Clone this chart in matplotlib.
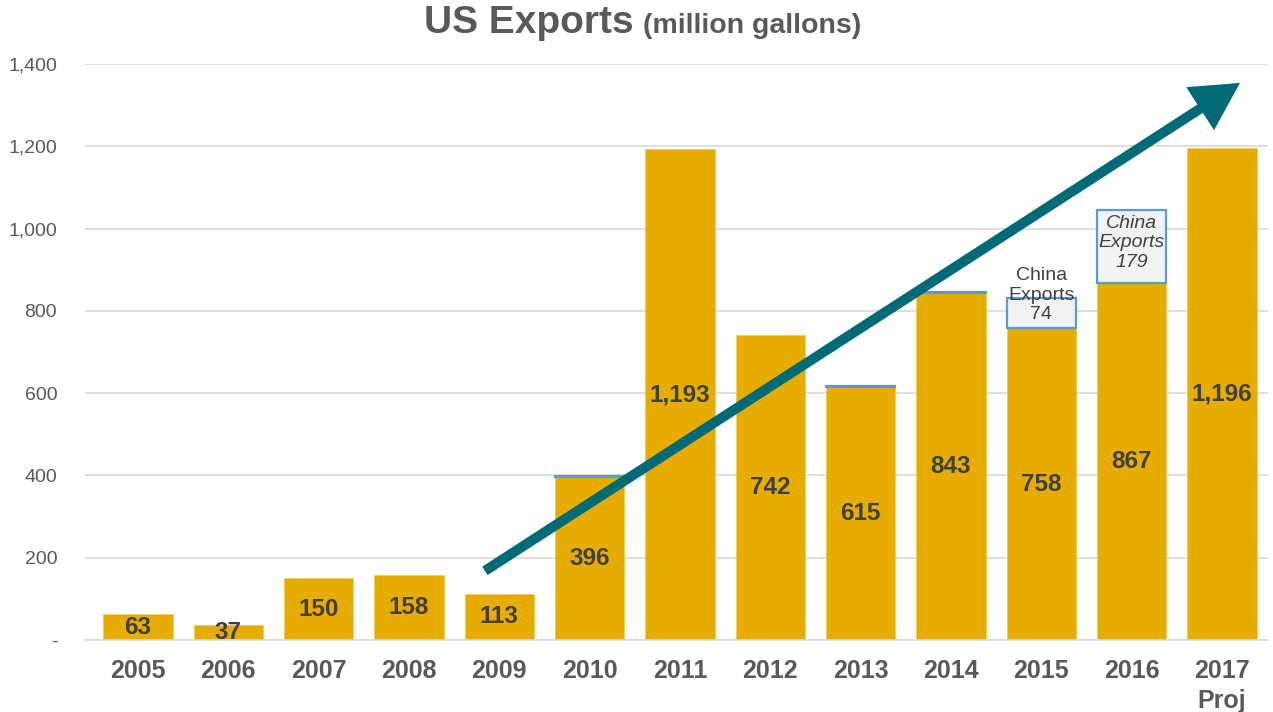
import matplotlib
matplotlib.use("Agg")
import matplotlib.pyplot as plt
from matplotlib.ticker import FixedLocator

plt.rcParams['font.family'] = ['Liberation Sans', 'DejaVu Sans']

years = ['2005', '2006', '2007', '2008', '2009', '2010', '2011', '2012',
         '2013', '2014', '2015', '2016', '2017\nProj']
us_exports = [63, 37, 150, 158, 113, 396, 1193, 742, 615, 843, 758, 867, 1196]
china_exports = [0, 0, 0, 0, 0, 2, 0, 0, 2, 2, 74, 179, 0]
china_label_years = ['2015', '2016']
china_label_values = [74, 179]
yticks = [0, 200, 400, 600, 800, 1000, 1200, 1400]
ytick_labels = ['-', '200', '400', '600', '800', '1,000', '1,200', '1,400']
trend_start = (3.84, 168)
trend_end = (12.2, 1354)

GOLD = '#E6AD00'
TEAL = '#006B77'
GRAY = '#595959'
DARK = '#404040'
BLUE = '#5B9BD5'

fig = plt.figure(figsize=(12.73, 7.12), dpi=100)
ax = fig.add_axes([85/1273, 72/712, (1268-85)/1273, (640-64)/712])

x = list(range(len(years)))
ax.bar(x, us_exports, width=0.77, color=GOLD, edgecolor='#F0CB5C', linewidth=0.6, zorder=2)

cx = [xi for xi, c in zip(x, china_exports) if c > 0]
ch = [c for c in china_exports if c > 0]
cb = [u for u, c in zip(us_exports, china_exports) if c > 0]
ax.bar(cx, ch, bottom=cb, width=0.77, color='#F2F2F2',
       edgecolor=BLUE, linewidth=1.6, zorder=2)

for xi, v in zip(x, us_exports):
    ax.text(xi, v / 2, f'{v:,}', ha='center', va='center', fontsize=17.5,
            fontweight='bold', color=DARK, zorder=4)

# China export annotations
for yr, cv in zip(china_label_years, china_label_values):
    i = years.index(yr)
    top = us_exports[i] + china_exports[i]
    if yr == '2015':
        ax.text(i, top + 6, f'China\nExports\n{cv}', ha='center', va='center',
                fontsize=14, color=DARK, linespacing=1.2, zorder=3)
    else:
        ax.text(i, us_exports[i] + cv / 2 + 9, f'China\nExports\n{cv}', ha='center',
                va='center', fontsize=14, color=DARK, style='italic',
                linespacing=1.2, zorder=3)

# Trend arrow
ax.annotate('', xy=trend_end, xytext=trend_start,
            arrowprops=dict(arrowstyle='-|>,head_length=1.15,head_width=0.62',
                            mutation_scale=20, lw=7.2, color=TEAL,
                            shrinkA=0, shrinkB=0, capstyle='butt',
                            joinstyle='miter'),
            zorder=5)

ax.set_xlim(-0.587, 12.51)
ax.set_ylim(0, 1400)
ax.yaxis.set_major_locator(FixedLocator(yticks))
ax.set_yticklabels(ytick_labels)
ax.set_xticks(x)
ax.set_xticklabels(years)
ax.tick_params(axis='y', length=0, pad=20, labelsize=14, labelcolor=GRAY)
ax.tick_params(axis='x', length=0, pad=14, labelsize=18, labelcolor=GRAY)
for lbl in ax.get_xticklabels():
    lbl.set_fontweight('bold')
    lbl.set_verticalalignment('top')
    lbl.set_linespacing(1.3)

ax.grid(axis='y', color='#D9D9D9', linewidth=1.2, zorder=0)
ax.set_axisbelow(True)
for s in ['top', 'right', 'left']:
    ax.spines[s].set_visible(False)
ax.spines['bottom'].set_color('#D9D9D9')
ax.spines['bottom'].set_linewidth(1.2)

# Title
fig.text(424/1273, 1 - 23/712, 'US Exports', ha='left', va='center',
         fontsize=28, fontweight='bold', color=GRAY)
fig.text(643/1273, 1 - 26/712, '(million gallons)', ha='left', va='center',
         fontsize=20.5, fontweight='bold', color=GRAY)

fig.savefig('out.png', dpi=100)
